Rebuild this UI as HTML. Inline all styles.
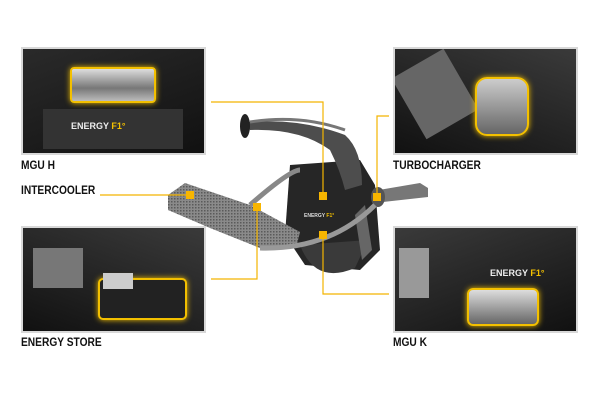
<!DOCTYPE html>
<html><head><style>
body{margin:0;background:#fff;width:600px;height:400px;overflow:hidden;position:relative;font-family:"Liberation Sans",sans-serif}
.p{position:absolute;background:#1b1b1b;border:2px solid #d8d8d8;box-sizing:border-box;overflow:hidden}
.l{position:absolute;font-weight:bold;font-size:12px;color:#111;transform:scaleX(0.85);transform-origin:left;letter-spacing:0}
</style></head><body>
<div class="p" style="left:21px;top:47px;width:185px;height:108px;background:linear-gradient(160deg,#2a2a2a,#111)">
 <div style="position:absolute;left:47px;top:18px;width:82px;height:32px;background:linear-gradient(#ddd,#777 60%,#bbb);border:2px solid #f3c000;border-radius:4px;box-shadow:0 0 6px #f3c000"></div>
 <div style="position:absolute;left:20px;top:60px;width:140px;height:40px;background:#333"></div>
 <div style="position:absolute;left:48px;top:72px;color:#eee;font-size:9px;font-weight:bold">ENERGY <span style="color:#f3c000">F1°</span></div>
</div>
<div class="p" style="left:393px;top:47px;width:185px;height:108px;background:linear-gradient(200deg,#3a3a3a,#111)">
 <div style="position:absolute;left:10px;top:10px;width:60px;height:70px;background:#666;transform:rotate(-30deg)"></div>
 <div style="position:absolute;left:80px;top:28px;width:50px;height:55px;background:linear-gradient(#ccc,#666);border:2px solid #f3c000;border-radius:12px;box-shadow:0 0 6px #f3c000"></div>
</div>
<div class="p" style="left:21px;top:226px;width:185px;height:107px;background:linear-gradient(200deg,#3a3a3a,#111)">
 <div style="position:absolute;left:10px;top:20px;width:50px;height:40px;background:#777"></div>
 <div style="position:absolute;left:75px;top:50px;width:85px;height:38px;background:#222;border:2px solid #f3c000;border-radius:5px;box-shadow:0 0 6px #f3c000"></div>
 <div style="position:absolute;left:80px;top:45px;width:30px;height:16px;background:#ccc"></div>
</div>
<div class="p" style="left:393px;top:226px;width:185px;height:107px;background:linear-gradient(160deg,#3a3a3a,#111)">
 <div style="position:absolute;left:4px;top:20px;width:30px;height:50px;background:#999"></div>
 <div style="position:absolute;left:95px;top:40px;color:#eee;font-size:9px;font-weight:bold">ENERGY <span style="color:#f3c000">F1°</span></div>
 <div style="position:absolute;left:72px;top:60px;width:68px;height:34px;background:linear-gradient(#ddd,#666);border:2px solid #f3c000;border-radius:6px;box-shadow:0 0 6px #f3c000"></div>
</div>
<div class="l" style="left:21px;top:158px">MGU H</div>
<div class="l" style="left:21px;top:183px">INTERCOOLER</div>
<div class="l" style="left:393px;top:158px">TURBOCHARGER</div>
<div class="l" style="left:21px;top:335px">ENERGY STORE</div>
<div class="l" style="left:393px;top:335px">MGU K</div>
<svg width="600" height="400" style="position:absolute;left:0;top:0">
 <defs><pattern id="c" width="3" height="3" patternUnits="userSpaceOnUse"><rect width="3" height="3" fill="#8a8a8a"/><rect width="1.5" height="1.5" fill="#5a5a5a"/></pattern></defs>
 <path d="M290 165 L360 160 L375 185 L380 250 L360 270 L305 265 L285 235 Z" fill="#262626"/>
 <path d="M300 245 Q315 285 355 268 L368 240 Z" fill="#3a3a3a"/>
 <path d="M243 118 L250 130 Q300 128 330 150 Q340 170 345 190 L362 185 Q362 150 345 135 Q300 118 250 122 Z" fill="#4d4d4d"/>
 <path d="M250 122 Q300 114 345 130" stroke="#777" stroke-width="3" fill="none"/>
 <ellipse cx="245" cy="126" rx="5" ry="12" fill="#222"/>
 <path d="M379 190 L420 183 L428 188 L428 197 L383 202 Z" fill="#777"/>
 <ellipse cx="378" cy="197" rx="7" ry="10" fill="#555"/>
 <path d="M365 205 L372 250 L362 260 L355 215 Z" fill="#666"/>
 <path d="M168 195 L185 183 L250 205 L300 232 L296 248 L260 248 L210 228 L168 210 Z" fill="url(#c)"/>
 <path d="M250 205 Q290 170 300 170" stroke="#888" stroke-width="5" fill="none"/>
 <path d="M260 248 Q330 250 375 205" stroke="#999" stroke-width="5" fill="none"/>
 <text x="304" y="217" font-size="5" fill="#ddd" font-family="Liberation Sans" font-weight="bold">ENERGY <tspan fill="#f3c000">F1°</tspan></text>
 <g stroke="#f3b400" stroke-width="1.2" fill="none">
  <polyline points="211,102 323,102 323,196"/>
  <polyline points="100,195 190,195"/>
  <polyline points="211,279 257,279 257,207"/>
  <polyline points="389,294 323,294 323,235"/>
  <polyline points="389,116 377,116 377,197"/>
 </g>
 <g fill="#f7b500">
  <rect x="186" y="191" width="8" height="8"/>
  <rect x="253" y="203" width="8" height="8"/>
  <rect x="319" y="192" width="8" height="8"/>
  <rect x="319" y="231" width="8" height="8"/>
  <rect x="373" y="193" width="8" height="8"/>
 </g>
</svg>
</body></html>
